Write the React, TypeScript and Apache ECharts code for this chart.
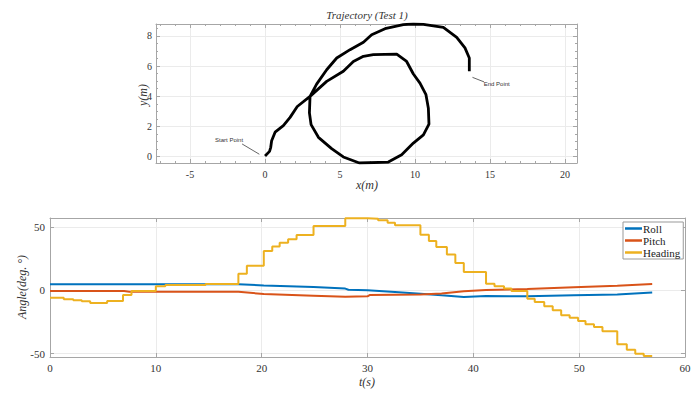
import React, { useEffect, useRef } from "react";
import * as echarts from "echarts";

const trajX = [0, 0.3, 0.38, 0.44, 0.67, 1.22, 1.67, 2.15, 3.0, 4.11, 5.22, 5.89, 6.56, 7.22, 8.78, 9.44, 9.89, 10.33, 10.73, 10.89, 10.93, 10.56, 9.89, 9.11, 8.22, 6.29, 5.22, 4.44, 3.56, 3.07, 2.96, 3.0, 3.44, 4.11, 4.78, 5.67, 6.56, 7.11, 8.0, 9.22, 9.89, 10.56, 11.89, 12.78, 13.33, 13.62, 13.62];
const trajY = [0.05, 0.35, 0.62, 1.05, 1.62, 2.05, 2.6, 3.32, 3.99, 4.98, 5.65, 6.3, 6.64, 6.75, 6.78, 6.3, 5.47, 4.87, 4.1, 3.2, 2.15, 1.44, 0.9, 0.13, -0.36, -0.42, -0.02, 0.53, 1.28, 2.12, 2.9, 3.99, 4.8, 5.75, 6.53, 7.08, 7.57, 8.07, 8.47, 8.74, 8.78, 8.76, 8.56, 7.9, 7.2, 6.53, 5.65];

const headingT = [0, 1.3, 2.2, 3.0, 3.8, 5.4, 6.9, 7.7, 10.0, 10.9, 14.7, 17.8, 18.6, 20.2, 21.0, 21.7, 22.5, 23.3, 24.9, 27.9, 30.0, 31.0, 31.9, 32.6, 35.0, 35.8, 36.5, 37.5, 38.3, 39.1, 41.2, 42.0, 42.9, 43.6, 45.1, 45.8, 46.7, 47.5, 48.3, 49.1, 49.9, 50.6, 51.4, 52.2, 53.6, 54.5, 55.3, 56.1, 56.9];
const headingV = [-5.8, -7.1, -7.9, -8.7, -10, -8.4, -3.7, -0.5, 3.2, 4.2, 5.0, 13.2, 19.5, 31, 34.7, 37.6, 40.3, 43.7, 50.8, 57.0, 56.6, 55.3, 53.4, 51.4, 43.9, 38.9, 34.2, 28.2, 21.6, 14.5, 5.3, 3.2, 1.4, -0.5, -6.6, -9.2, -12.6, -15.8, -19.7, -21.6, -24.2, -26.8, -28.9, -32.3, -42.6, -46.8, -50, -51.8, -51.8];

const rollT = [0, 17.8, 20.2, 24.9, 27.9, 28.2, 30.0, 32.6, 35.0, 37.0, 39.1, 41.2, 45.1, 49.5, 53.6, 56.9];
const rollV = [4.8, 4.8, 3.9, 2.6, 1.4, 0.5, 0, -1.3, -2.6, -3.9, -5.2, -4.4, -4.7, -3.9, -3.2, -1.6];

const pitchT = [0, 7.0, 7.5, 17.8, 20.2, 24.9, 27.9, 30.0, 30.2, 35.0, 37.0, 39.1, 41.2, 45.1, 49.5, 53.6, 56.9];
const pitchV = [-0.5, -0.5, -1.1, -1.1, -2.9, -4.2, -5.0, -4.7, -3.7, -3.2, -2.4, -0.8, 0.3, 1.1, 2.4, 3.7, 5.0];

const topXTicks = [-5, 0, 5, 10, 15, 20];
const topYTicks = [0, 2, 4, 6, 8];
const botXTicks = [0, 10, 20, 30, 40, 50, 60];
const botYTicks = [-50, 0, 50];

const BLUE = "#0072BD";
const RED = "#D95319";
const YELLOW = "#EDB120";
const SERIF = "Liberation Serif";
const AXIS_C = "#a6a6a6";
const LABEL_C = "#333333";

function fmt(ticks: number[]) {
  return (v: number) => (ticks.some((t) => Math.abs(t - v) < 1e-6) ? String(v) : "");
}

function mkAxis(base: any, opts: any) {
  return Object.assign(
    {
      type: "value",
      axisLine: { show: true, onZero: false, lineStyle: { color: AXIS_C, width: 1 } },
      axisTick: { show: true, inside: true, length: 4, lineStyle: { color: AXIS_C } },
      splitLine: { show: false },
      axisLabel: { show: false },
    },
    base,
    opts
  );
}

export default function App() {
  const ref = useRef<HTMLDivElement>(null);
  useEffect(() => {
    if (!ref.current) return;
    const chart = echarts.init(ref.current, undefined, { renderer: "svg" });
    const topX = { min: -7.27, max: 20.8 };
    const topY = { min: -0.42, max: 8.78 };
    const botX = { min: 0, max: 60 };
    const botY = { min: -52.6, max: 57.1, splitNumber: 2 };
    const minorTop = (n: number) => ({ show: true, splitNumber: n, length: 2, lineStyle: { color: AXIS_C } });
    const labelStyle = (fmtTicks: number[], size: number, margin: number) => ({
      show: true,
      formatter: fmt(fmtTicks),
      color: LABEL_C,
      fontFamily: SERIF,
      fontSize: size,
      margin,
    });

    chart.setOption({
      animation: false,
      backgroundColor: "#ffffff",
      textStyle: { fontFamily: SERIF },
      grid: [
        { left: 156, top: 24, width: 421, height: 139 },
        { left: 50, top: 218, width: 635, height: 139 },
      ],
      xAxis: [
        mkAxis(topX, {
          gridIndex: 0,
          position: "bottom",
          minorTick: minorTop(5),
          splitLine: { show: true, lineStyle: { color: "#ebebeb" } },
          axisLabel: labelStyle(topXTicks, 10, 6),
        }),
        mkAxis(topX, { gridIndex: 0, position: "top", minorTick: minorTop(5) }),
        mkAxis(botX, {
          gridIndex: 1,
          position: "bottom",
          interval: 10,
          splitLine: { show: true, lineStyle: { color: "#ebebeb" } },
          axisLabel: labelStyle(botXTicks, 11, 5),
        }),
        mkAxis(botX, { gridIndex: 1, position: "top", interval: 10 }),
      ],
      yAxis: [
        mkAxis(topY, {
          gridIndex: 0,
          position: "left",
          minorTick: minorTop(4),
          splitLine: { show: true, lineStyle: { color: "#ebebeb" } },
          axisLabel: labelStyle(topYTicks, 10, 4),
        }),
        mkAxis(topY, { gridIndex: 0, position: "right", minorTick: minorTop(4) }),
        mkAxis(botY, {
          gridIndex: 1,
          position: "left",
          splitLine: { show: true, lineStyle: { color: "#ebebeb" } },
          axisLabel: labelStyle(botYTicks, 11, 5),
        }),
        mkAxis(botY, { gridIndex: 1, position: "right" }),
      ],
      legend: {
        data: ["Roll", "Pitch", "Heading"],
        left: 623,
        top: 222,
        orient: "vertical",
        icon: "rect",
        itemWidth: 17,
        itemHeight: 2.5,
        itemGap: 1,
        padding: [1, 3, 1, 2],
        backgroundColor: "#ffffff",
        borderColor: "#999999",
        borderWidth: 1,
        borderRadius: 0,
        textStyle: { fontFamily: SERIF, fontSize: 11, lineHeight: 11, color: "#222", padding: [0, 0, 0, -4] },
      },
      graphic: [
        { type: "text", x: 367, y: 15, style: { text: "Trajectory (Test 1)", font: `italic 11px ${SERIF}`, fill: "#333", textAlign: "center", textVerticalAlign: "middle" } },
        { type: "text", x: 367, y: 185, style: { text: "x(m)", font: `italic 12px ${SERIF}`, fill: "#333", textAlign: "center", textVerticalAlign: "middle" } },
        { type: "text", x: 143, y: 95, rotation: Math.PI / 2, style: { text: "y(m)", font: `italic 12px ${SERIF}`, fill: "#333", textAlign: "center", textVerticalAlign: "middle" } },
        { type: "text", x: 367, y: 382, style: { text: "t(s)", font: `italic 12px ${SERIF}`, fill: "#333", textAlign: "center", textVerticalAlign: "middle" } },
        { type: "text", x: 22, y: 287, rotation: Math.PI / 2, style: { text: "Angle(deg. °)", font: `italic 12px ${SERIF}`, fill: "#333", textAlign: "center", textVerticalAlign: "middle" } },
      ],
      series: [
        {
          name: "Trajectory",
          type: "line",
          xAxisIndex: 0,
          yAxisIndex: 0,
          showSymbol: false,
          symbol: "none",
          lineStyle: { color: "#000", width: 2.8 },
          data: trajX.map((x, i) => [x, trajY[i]]),
          markLine: {
            silent: true,
            symbol: ["none", "arrow"],
            symbolSize: [0, 7],
            label: { show: false },
            lineStyle: { color: "#222", width: 0.7, type: "solid" },
            data: [
              [{ coord: [-1.53, 0.84] }, { coord: [-0.38, 0.16] }],
              [{ coord: [14.6, 4.95] }, { coord: [13.83, 5.25] }],
            ],
          },
          markPoint: {
            silent: true,
            symbol: "circle",
            symbolSize: 1,
            itemStyle: { color: "rgba(0,0,0,0)" },
            label: { show: true, position: "inside", fontFamily: "Liberation Sans", fontSize: 6, color: "#333", formatter: (p: any) => p.name },
            data: [
              { name: "Start Point", coord: [-2.4, 1.11] },
              { name: "End Point", coord: [15.45, 4.82] },
            ],
          },
        },
        {
          name: "Roll",
          type: "line",
          xAxisIndex: 2,
          yAxisIndex: 2,
          symbol: "none",
          color: BLUE,
          lineStyle: { color: BLUE, width: 2 },
          data: rollT.map((t, i) => [t, rollV[i]]),
        },
        {
          name: "Pitch",
          type: "line",
          xAxisIndex: 2,
          yAxisIndex: 2,
          symbol: "none",
          color: RED,
          lineStyle: { color: RED, width: 2 },
          data: pitchT.map((t, i) => [t, pitchV[i]]),
        },
        {
          name: "Heading",
          type: "line",
          xAxisIndex: 2,
          yAxisIndex: 2,
          symbol: "none",
          step: "end",
          color: YELLOW,
          lineStyle: { color: YELLOW, width: 2 },
          data: headingT.map((t, i) => [t, headingV[i]]),
        },
      ],
    });
    return () => chart.dispose();
  }, []);
  return <div ref={ref} style={{ width: 696, height: 393, position: "absolute", left: 0, top: 0 }} />;
}
